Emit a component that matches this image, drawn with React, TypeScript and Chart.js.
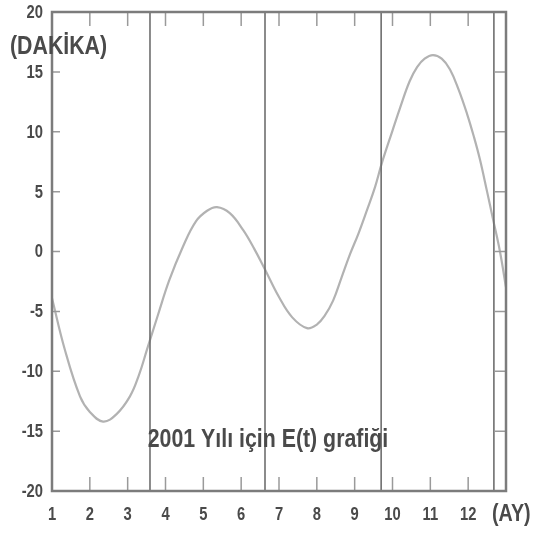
import React, { useEffect, useRef } from 'react';
import { Chart, registerables } from 'chart.js';

Chart.register(...registerables);

// Equation of time, 2001 (month as fractional position, value in minutes)
const months = [
  1.0, 1.34, 1.74, 2.0, 2.35, 2.7, 3.06, 3.3, 3.51, 3.8, 4.1, 4.46, 4.8, 5.1, 5.36, 5.7,
  6.05, 6.35, 6.63, 7.0, 7.35, 7.74, 8.0, 8.2, 8.43, 8.65, 8.88, 9.1, 9.33, 9.54, 9.72, 10.0,
  10.2, 10.45, 10.65, 10.85, 11.07, 11.3, 11.52, 11.75, 11.97, 12.15, 12.31, 12.5, 12.65,
  12.84, 13.0,
];
const minutes = [
  -3.9, -8.2, -12.1, -13.4, -14.2, -13.6, -12.1, -10.3, -8.2, -5.3, -2.4, 0.4, 2.5, 3.4, 3.7,
  3.2, 1.8, 0.2, -1.5, -3.8, -5.5, -6.4, -6.1, -5.4, -4.1, -2.2, -0.2, 1.5, 3.5, 5.4, 7.4,
  10.1, 12.0, 14.2, 15.4, 16.1, 16.4, 16.1, 15.2, 13.5, 11.5, 9.6, 7.7, 5.0, 2.8, 0.0, -3.0,
];
// equinox / solstice markers
const seasonLines = [3.59, 6.63, 9.7, 12.68];
const xTickValues = [1, 2, 3, 4, 5, 6, 7, 8, 9, 10, 11, 12];
const xTickLabels = ['1', '2', '3', '4', '5', '6', '7', '8', '9', '10', '11', '12'];
const xInnerTicks = [2, 3, 4, 5, 6, 7, 8, 9, 10, 11, 12];
const yTickValues = [-20, -15, -10, -5, 0, 5, 10, 15, 20];
const yTickLabels = ['-20', '-15', '-10', '-5', '0', '5', '10', '15', '20'];
const chartTitle = '2001 Yılı için E(t) grafiği';
const yUnit = '(DAKİKA)';
const xUnit = '(AY)';

const FONT = "'Liberation Sans', Arial, sans-serif";
const TEXT = '#4a4a4a';
const NARROW = 0.82;

function narrowText(ctx: any, text: string, x: number, y: number, size: number, align: string) {
  ctx.save();
  ctx.font = `bold ${size}px ${FONT}`;
  ctx.textAlign = align;
  ctx.textBaseline = 'middle';
  ctx.translate(x, y);
  ctx.scale(NARROW, 1);
  ctx.fillText(text, 0, 0);
  ctx.restore();
}

const framePlugin = {
  id: 'frameAndText',
  afterDraw(chart: any) {
    const { ctx, chartArea } = chart;
    const xs = chart.scales.x;
    const ys = chart.scales.y;
    const { left, right, top, bottom } = chartArea;
    ctx.save();
    // inner ticks
    ctx.strokeStyle = '#9a9a9a';
    ctx.lineWidth = 1.5;
    ctx.beginPath();
    xInnerTicks.forEach((m) => {
      const px = xs.getPixelForValue(m);
      ctx.moveTo(px, top);
      ctx.lineTo(px, top + 14);
      ctx.moveTo(px, bottom);
      ctx.lineTo(px, bottom - 14);
    });
    yTickValues.forEach((v) => {
      const py = ys.getPixelForValue(v);
      ctx.moveTo(left, py);
      ctx.lineTo(left + 8, py);
      ctx.moveTo(right, py);
      ctx.lineTo(right - 12, py);
    });
    ctx.stroke();
    // frame
    ctx.strokeStyle = '#7c7c7c';
    ctx.lineWidth = 2.5;
    ctx.strokeRect(left, top, right - left, bottom - top);

    // tick labels
    ctx.fillStyle = TEXT;
    xTickValues.forEach((m, i) => {
      narrowText(ctx, xTickLabels[i], xs.getPixelForValue(m), bottom + 24, 18, 'center');
    });
    yTickValues.forEach((v, i) => {
      narrowText(ctx, yTickLabels[i], left - 9, ys.getPixelForValue(v) + 1, 18, 'right');
    });

    // texts
    narrowText(ctx, yUnit, 10, 47, 26, 'left');
    narrowText(ctx, xUnit, 492, 514, 24, 'left');
    narrowText(ctx, chartTitle, 268, 440, 26, 'center');
    ctx.restore();
  },
};

export default function App() {
  const ref = useRef<HTMLCanvasElement | null>(null);

  useEffect(() => {
    if (!ref.current) return;
    const curve = months.map((m, i) => ({ x: m, y: minutes[i] }));
    const lineSets = seasonLines.map((m) => ({
      data: [
        { x: m, y: -20 },
        { x: m, y: 20 },
      ],
      borderColor: '#6e6e6e',
      borderWidth: 1.6,
      pointRadius: 0,
      tension: 0,
    }));
    const chart = new Chart(ref.current, {
      type: 'line',
      data: {
        datasets: [
          ...lineSets,
          {
            data: curve,
            borderColor: '#b2b2b2',
            borderWidth: 2.2,
            pointRadius: 0,
            tension: 0.4,
          },
        ],
      } as any,
      options: {
        animation: false,
        responsive: false,
        maintainAspectRatio: false,
        layout: { padding: { top: 12, right: 28, left: 0, bottom: 0 } },
        plugins: { legend: { display: false }, tooltip: { enabled: false }, title: { display: false } },
        scales: {
          x: {
            type: 'linear',
            min: 1,
            max: 13,
            grid: { display: false },
            border: { display: false },
            ticks: { display: false, stepSize: 1 },
            afterFit: (s: any) => {
              s.height = 45;
            },
          },
          y: {
            type: 'linear',
            min: -20,
            max: 20,
            grid: { display: false },
            border: { display: false },
            ticks: { display: false, stepSize: 5 },
            afterFit: (s: any) => {
              s.width = 52;
            },
          },
        },
      } as any,
      plugins: [framePlugin],
    });
    return () => chart.destroy();
  }, []);

  return (
    <div style={{ position: 'fixed', left: 0, top: 0, width: 534, height: 536, background: '#fff' }}>
      <canvas ref={ref} width={534} height={536} style={{ width: 534, height: 536 }} />
    </div>
  );
}
